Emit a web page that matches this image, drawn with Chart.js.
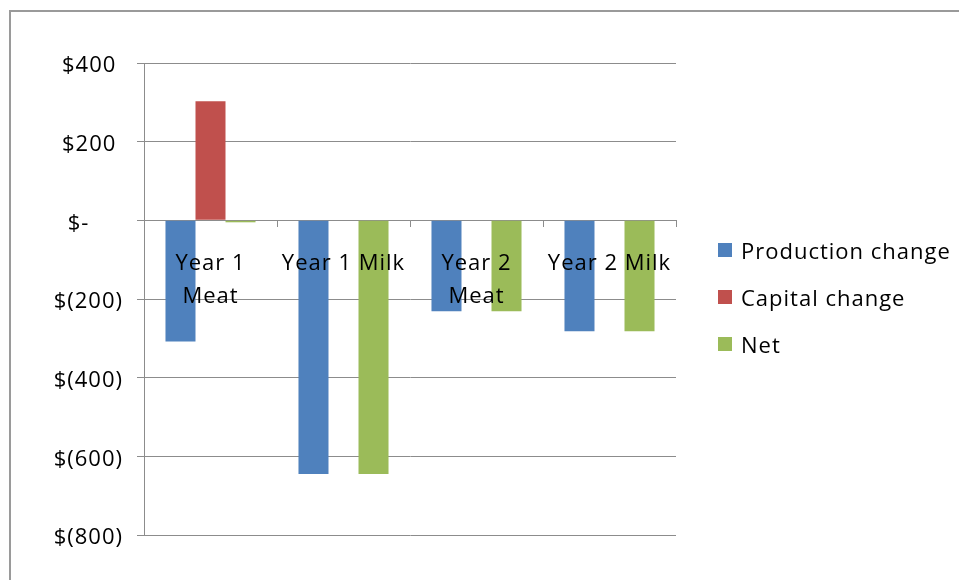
<!DOCTYPE html>
<html>
<head>
<meta charset="utf-8">
<script src="https://cdn.jsdelivr.net/npm/chart.js@4.4.1/dist/chart.umd.min.js"></script>
<style>
  html, body { margin: 0; padding: 0; background: #fff; }
  #wrap { position: relative; width: 959px; height: 580px; overflow: hidden; }
  #frame { position: absolute; left: 9px; top: 10px; width: 1000px; height: 1000px;
           border-left: 2px solid #9a9a9a; border-top: 2px solid #9a9a9a; }
  #chart { position: absolute; left: 0; top: 0; }
  .lg { position: absolute; left: 718px; height: 30px; display: flex; align-items: center;
        font: 22px 'Open Sans', 'DejaVu Sans', sans-serif; letter-spacing: 1px; color: #000; white-space: nowrap; }
  .lg i { display: inline-block; width: 14px; height: 14px; margin-right: 9px; }
</style>
</head>
<body>
<div id="wrap">
  <div id="frame"></div>
  <canvas id="chart" width="959" height="580"></canvas>
  <div id="legend"></div>
</div>
<script>
// ==============================
//  데이터
// ==============================
const categories = [["Year 1", "Meat"], "Year 1 Milk", ["Year 2", "Meat"], "Year 2 Milk"];
const seriesNames = ["Production change", "Capital change", "Net"];
const productionChange = [-308, -645, -231, -282];
const capitalChange = [303, 0, 0, 0];
const netChange = [-5, -645, -231, -282];

const yTickValues = [-800, -600, -400, -200, 0, 200, 400];
const yTickLabels = ["$(800)", "$(600)", "$(400)", "$(200)", "$-", "$200", "$400"];

// ==============================
//  스타일
// ==============================
const FONT = "'Open Sans', 'DejaVu Sans', sans-serif";
const GRID = "#8c8c8c";
const colors = ["#4F81BD", "#C0504D", "#9BBB59"];

// 엑셀 회계 서식처럼 오른쪽 공백
const accountingLabel = (v) => {
  const i = yTickValues.indexOf(v);
  if (i < 0) return "";
  const t = yTickLabels[i];
  if (v === 0) return t + "     ";
  if (v > 0) return t + " ";
  return t;
};

const letterSpacingPlugin = {
  id: "letterSpacing",
  beforeUpdate(chart) { chart.ctx.letterSpacing = "1px"; },
  beforeDraw(chart) { chart.ctx.letterSpacing = "1px"; }
};

// ==============================
//  차트
// ==============================
new Chart(document.getElementById("chart"), {
  type: "bar",
  data: {
    labels: categories,
    datasets: [productionChange, capitalChange, netChange].map((d, i) => ({
      label: seriesNames[i],
      data: d,
      backgroundColor: colors[i],
      borderWidth: 0,
      barPercentage: 1,
      categoryPercentage: 0.677
    }))
  },
  options: {
    responsive: false,
    animation: false,
    layout: { padding: { left: 0, top: 63, bottom: 45, right: 283 } },
    scales: {
      x: {
        position: { y: 0 },
        grid: { drawOnChartArea: false, drawTicks: true, tickLength: 6, color: GRID, offset: true },
        border: { color: GRID },
        ticks: {
          z: 1,
          color: "#000",
          padding: 21,
          maxRotation: 0,
          autoSkip: false,
          font: { family: FONT, size: 22, lineHeight: 1.5 }
        }
      },
      y: {
        min: -800,
        max: 400,
        afterFit: (s) => { s.width = 144; },
        afterBuildTicks: (s) => { s.ticks = yTickValues.map(v => ({ value: v })); },
        grid: { color: GRID, tickLength: 7 },
        border: { color: GRID },
        ticks: {
          color: "#000",
          padding: 14,
          labelOffset: 3,
          font: { family: FONT, size: 22 },
          callback: (v) => accountingLabel(v)
        }
      }
    },
    plugins: {
      legend: { display: false },
      tooltip: { enabled: false }
    }
  },
  plugins: [letterSpacingPlugin]
});

// --- 범례 (오른쪽) ---
const legendEl = document.getElementById("legend");
seriesNames.forEach((name, i) => {
  const item = document.createElement("div");
  item.className = "lg";
  item.style.top = (235 + 47 * i) + "px";
  const box = document.createElement("i");
  box.style.background = colors[i];
  item.appendChild(box);
  item.appendChild(document.createTextNode(name));
  legendEl.appendChild(item);
});
</script>
</body>
</html>
